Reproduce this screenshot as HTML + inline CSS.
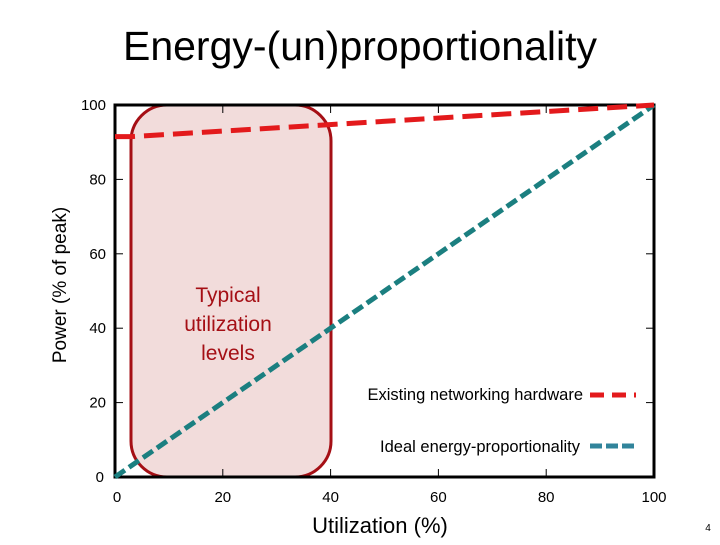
<!DOCTYPE html>
<html><head><meta charset="utf-8"><style>
body{margin:0;background:#fff;font-family:"Liberation Sans",sans-serif;}
svg text{font-family:"Liberation Sans",sans-serif;}
</style></head><body>
<svg id="c" width="720" height="540" xmlns="http://www.w3.org/2000/svg">
<text x="360" y="60" font-size="41" text-anchor="middle" fill="#000">Energy-(un)proportionality</text>
<rect x="131" y="105" width="200" height="372" rx="36" ry="36" fill="#f2dcdb" stroke="#a50f15" stroke-width="3"/>
<text x="228" y="302" font-size="21" fill="#a50f15" text-anchor="middle">Typical</text>
<text x="228" y="331" font-size="21" fill="#a50f15" text-anchor="middle">utilization</text>
<text x="228" y="360" font-size="21" fill="#a50f15" text-anchor="middle">levels</text>
<g id="axes"></g>
<g id="series"></g>
<text x="583" y="400" font-size="16.5" text-anchor="end">Existing networking hardware</text>
<line x1="590" y1="395" x2="636" y2="395" stroke="#e31a1c" stroke-width="5" stroke-dasharray="14,8"/>
<text x="580" y="452" font-size="16.5" text-anchor="end">Ideal energy-proportionality</text>
<line x1="590" y1="446" x2="636" y2="446" stroke="#31849b" stroke-width="5" stroke-dasharray="12,4"/>
<text x="66" y="285" font-size="19" text-anchor="middle" transform="rotate(-90 66 285)">Power (% of peak)</text>
<text x="380" y="533" font-size="22" text-anchor="middle">Utilization (%)</text>
<text x="708" y="531" font-size="10" text-anchor="middle">4</text>
</svg>
<script>
const xTicks=[0,20,40,60,80,100];
const yTicks=[0,20,40,60,80,100];
const existingX=[0,3,100];
const existingY=[91.5,91.5,100];
const idealX=[0,100];
const idealY=[0,100];
const NS="http://www.w3.org/2000/svg";
const X0=115,X1=654,Y0=477,Y1=105;
function sx(v){return X0+(X1-X0)*v/100;}
function sy(v){return Y0-(Y0-Y1)*v/100;}
const axes=document.getElementById('axes'),series=document.getElementById('series');
function mk(tag,attrs,parent){const e=document.createElementNS(NS,tag);for(const k in attrs)e.setAttribute(k,attrs[k]);parent.appendChild(e);return e;}
xTicks.forEach(function(t){
  if(t>0&&t<100){
    const a=mk('line',{x1:sx(t),x2:sx(t),y1:Y0,y2:Y0-8,stroke:'#000','stroke-width':1},axes);
    
    
    const b=mk('line',{x1:sx(t),x2:sx(t),y1:Y1,y2:Y1+8,stroke:'#000','stroke-width':1},axes);
    
    
  }
  const l=mk('text',{x:sx(t)+(t==0?2:0),y:502,'font-size':15,'text-anchor':'middle'},axes);
  l.textContent=t;
  
  
});
yTicks.forEach(function(t){
  if(t>0&&t<100){
    const a=mk('line',{x1:X0,x2:X0+8,y1:sy(t),y2:sy(t),stroke:'#000','stroke-width':1},axes);
    
    
    const b=mk('line',{x1:X1,x2:X1-8,y1:sy(t),y2:sy(t),stroke:'#000','stroke-width':1},axes);
    
    
  }
  const l=mk('text',{x:t==0?104:106,y:sy(t)+5,'font-size':15,'text-anchor':'end'},axes);
  l.textContent=t;
  
  
});
const frame=mk('rect',{x:X0,y:Y1,width:X1-X0,height:Y0-Y1,fill:'none',stroke:'#000','stroke-width':3},axes);


function pts(xs,ys){return xs.map(function(x,i){return sx(x)+','+sy(ys[i]);}).join(' ');}
const ideal=mk('polyline',{points:pts(idealX,idealY),fill:'none',stroke:'#1b7f80','stroke-width':5,'stroke-dasharray':'12,5'},series);


const ex=mk('polyline',{points:pts(existingX,existingY),fill:'none',stroke:'#e31a1c','stroke-width':5,'stroke-dasharray':'20,9'},series);


</script>
</body></html>
